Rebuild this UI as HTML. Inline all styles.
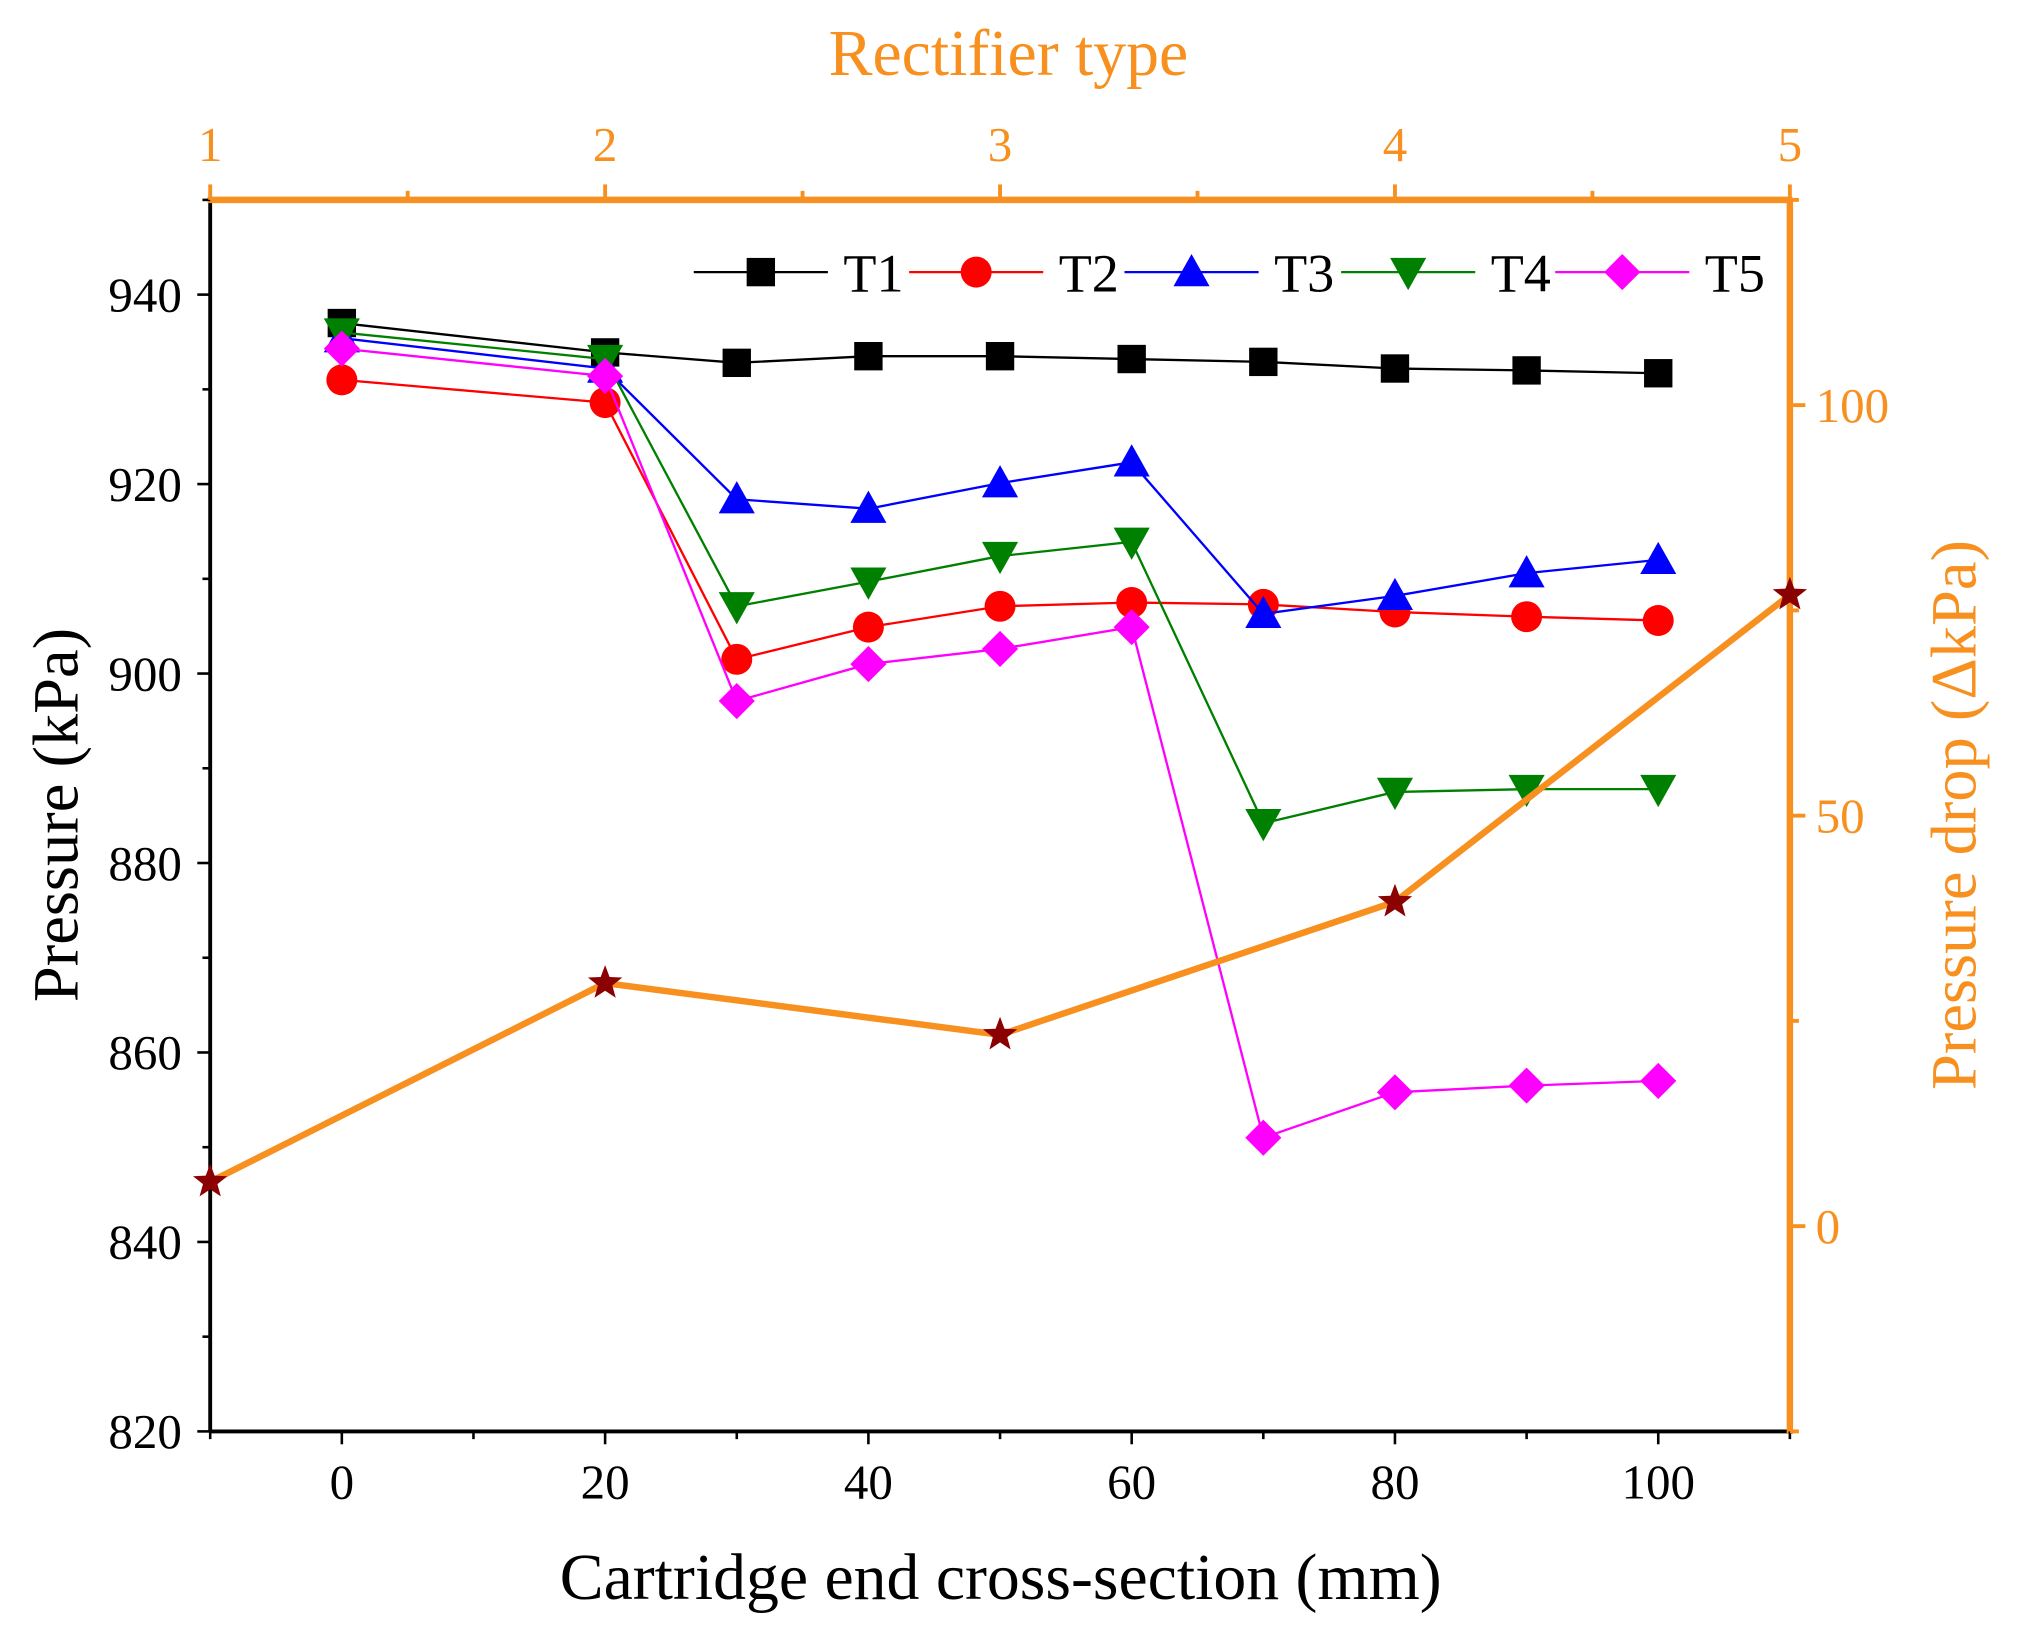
<!DOCTYPE html>
<html><head><meta charset="utf-8"><style>html,body{margin:0;padding:0;background:#fff}svg{display:block}</style></head>
<body>
<svg id="chart" width="2022" height="1630" viewBox="0 0 1568 1264" xmlns="http://www.w3.org/2000/svg" font-family="'Liberation Serif', serif">
<g id="g"></g>
</svg>
<script>
const xVals = [0,20,30,40,50,60,70,80,90,100];
const t1 = [937.0,933.9,932.8,933.5,933.5,933.2,932.9,932.2,932.0,931.7];
const t2 = [931.0,928.6,901.5,904.9,907.1,907.5,907.3,906.5,906.0,905.6];
const t3 = [935.4,932.2,918.4,917.4,920.1,922.3,906.3,908.2,910.6,912.0];
const t4 = [936.0,933.2,907.1,909.7,912.4,913.9,884.2,887.5,887.8,887.8];
const t5 = [934.3,931.4,897.1,901.0,902.6,904.9,851.0,855.8,856.5,857.0];
const rectTypes = [1,2,3,4,5];
const dropVals = [5.4,29.6,23.3,39.5,76.9];
const xTicks = [0,20,40,60,80,100];
const yTicks = [820,840,860,880,900,920,940];
const rTicks = [0,50,100];
const topTicks = [1,2,3,4,5];

const L=163,R=1388,T=155,B=1110;
const OR='#f7901e';
const sx=v=>L+(v+10)/120*(R-L);
const sy=v=>B-(v-820)/130*(B-T);
const st=v=>L+(v-1)/4*(R-L);
const sr=v=>B-(v+25)/150*(B-T);
const g=document.getElementById('g');
const NS='http://www.w3.org/2000/svg';
function mk(tag,attrs,parent){const e=document.createElementNS(NS,tag);for(const k in attrs)e.setAttribute(k,attrs[k]);(parent||g).appendChild(e);return e;}
function txt(s,attrs,parent){const e=mk('text',attrs,parent);e.textContent=s;return e;}

let e;
e=mk('line',{x1:L,y1:B,x2:R,y2:B,stroke:'#000','stroke-width':3});


e=mk('line',{x1:L,y1:T,x2:L,y2:B,stroke:'#000','stroke-width':3});


e=mk('line',{x1:R,y1:T,x2:R,y2:B+2,stroke:OR,'stroke-width':5});


e=mk('line',{x1:L-2,y1:T,x2:R+2,y2:T,stroke:OR,'stroke-width':5});



for(let v=-10;v<=110;v+=10){const maj=xTicks.includes(v);mk('line',{x1:sx(v),y1:B,x2:sx(v),y2:B+(maj?10:6),stroke:'#000','stroke-width':2});}
xTicks.forEach(v=>{e=txt(v,{x:sx(v),y:B+52,'font-size':38,'text-anchor':'middle'});

});
for(let v=820;v<=950;v+=10){const maj=yTicks.includes(v);mk('line',{x1:L,y1:sy(v),x2:L-(maj?10:6),y2:sy(v),stroke:'#000','stroke-width':2});}
yTicks.forEach(v=>{e=txt(v,{x:L-22,y:sy(v)+13,'font-size':38,'text-anchor':'end'});

});
for(let v=-25;v<=125;v+=25){const maj=rTicks.includes(v);mk('line',{x1:R,y1:sr(v),x2:R+(maj?12:7),y2:sr(v),stroke:OR,'stroke-width':3});}
rTicks.forEach(v=>{e=txt(v,{x:1408,y:sr(v)+13,'font-size':38,fill:OR,'text-anchor':'start'});

});
for(let v=1;v<=5;v+=0.5){const maj=topTicks.includes(v);mk('line',{x1:st(v),y1:T,x2:st(v),y2:T-(maj?12:7),stroke:OR,'stroke-width':3});}
topTicks.forEach(v=>{e=txt(v,{x:st(v),y:T-30,'font-size':38,fill:OR,'text-anchor':'middle'});

});

e=txt('Cartridge end cross-section (mm)',{x:776,y:1240,'font-size':51,'text-anchor':'middle'});


e=txt('Pressure (kPa)',{x:0,y:0,'font-size':50,'text-anchor':'middle',transform:'translate(60,632) rotate(-90)'});


e=txt('Rectifier type',{x:782,y:58,'font-size':51,fill:OR,'text-anchor':'middle'});


e=txt('Pressure drop (\u0394kPa)',{x:0,y:0,'font-size':50,fill:OR,'text-anchor':'middle',transform:'translate(1532,632) rotate(-90)'});



function marker(type,x,y,color,parent){
  const s=11;
  if(type==='sq') return mk('rect',{x:x-s,y:y-s,width:2*s,height:2*s,fill:color},parent);
  if(type==='ci') return mk('circle',{cx:x,cy:y,r:12,fill:color},parent);
  if(type==='up') return mk('polygon',{points:`${x},${y-14} ${x+14},${y+11} ${x-14},${y+11}`,fill:color},parent);
  if(type==='dn') return mk('polygon',{points:`${x},${y+14} ${x+14},${y-11} ${x-14},${y-11}`,fill:color},parent);
  if(type==='di') return mk('polygon',{points:`${x},${y-14} ${x+14},${y} ${x},${y+14} ${x-14},${y}`,fill:color},parent);
}
const series=[['T1',t1,'#000','sq'],['T2',t2,'#ff0000','ci'],['T3',t3,'#0000ff','up'],['T4',t4,'#008000','dn'],['T5',t5,'#ff00ff','di']];
series.forEach(([name,vals,c,m])=>{
  const sg=mk('g',{});
  
  
  mk('polyline',{points:vals.map((v,i)=>sx(xVals[i])+','+sy(v)).join(' '),fill:'none',stroke:c,'stroke-width':1.8},sg);
  vals.forEach((v,i)=>{const p=marker(m,sx(xVals[i]),sy(v),c,sg);
    
    });
});
const dg=mk('g',{});


mk('polyline',{points:dropVals.map((v,i)=>st(rectTypes[i])+','+sr(v)).join(' '),fill:'none',stroke:OR,'stroke-width':5},dg);
function star(x,y,r){let p=[];for(let i=0;i<10;i++){const a=-Math.PI/2+i*Math.PI/5;const rr=i%2?r*0.42:r;p.push((x+rr*Math.cos(a))+','+(y+rr*Math.sin(a)));}return p.join(' ');}
dropVals.forEach((v,i)=>{const p=mk('polygon',{points:star(st(rectTypes[i]),sr(v),14),fill:'#8b0000'},dg);
  
  });

const lg=mk('g',{});


const legX=[538,705,872,1040,1206];
series.forEach(([name,vals,c,m],i)=>{
  const eg=mk('g',{},lg);
  
  
  const x0=legX[i];
  mk('line',{x1:x0,y1:211,x2:x0+104,y2:211,stroke:c,'stroke-width':1.8},eg);
  marker(m,x0+52,211,c,eg);
  txt(name,{x:x0+116,y:226,'font-size':42},eg);
});
</script>
</body></html>
